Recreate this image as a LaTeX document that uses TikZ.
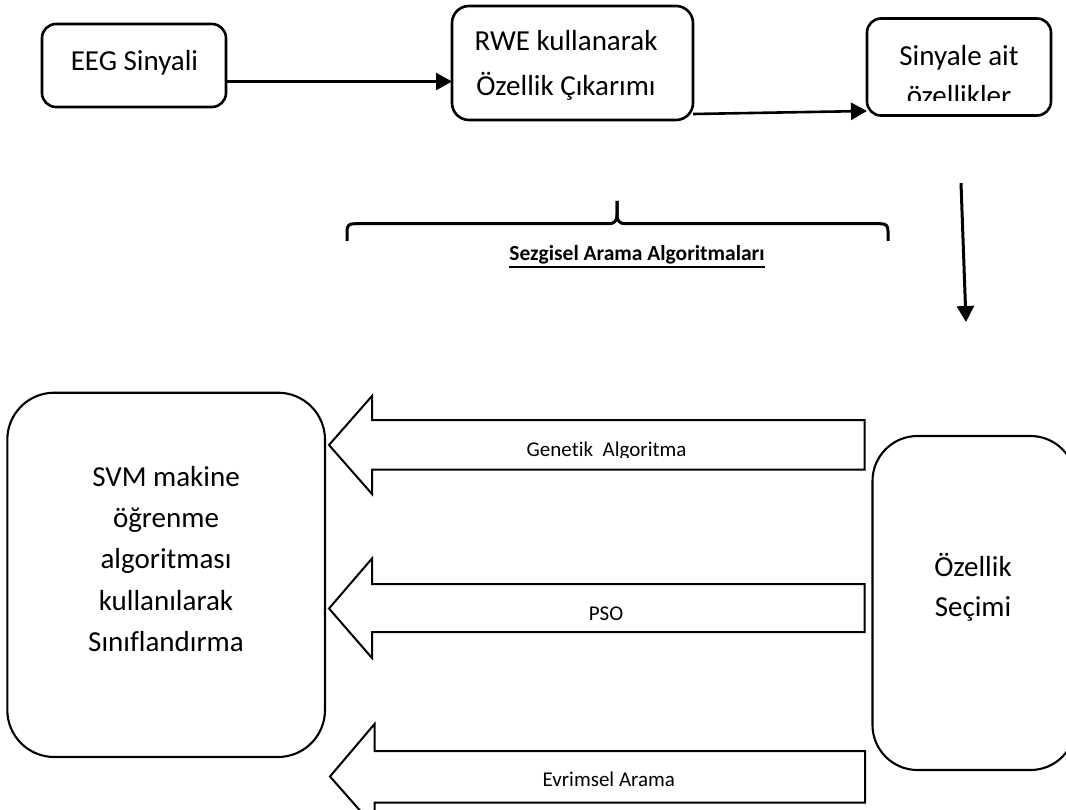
\documentclass[tikz,border=0pt]{standalone}
\usepackage{fontspec}
\setmainfont{Carlito}[Ligatures=NoCommon]
\usetikzlibrary{arrows.meta}

\begin{document}
\begin{tikzpicture}[x=1pt,y=-1pt,
  frame/.style={draw, rectangle, inner sep=0pt, outer sep=0pt, anchor=north west},
  smallbox/.style={frame, line width=2.6pt, rounded corners=14pt},
  bigbox/.style={frame, line width=2.1pt, rounded corners=47pt},
  txt/.style={inner sep=0pt, anchor=base, align=center},
  bigtxt/.style={txt, font=\fontsize{29}{42}\selectfont},
  lbltxt/.style={txt, font=\fontsize{21}{25}\selectfont},
  flow/.style={line width=2.6pt, -{Triangle[length=16pt,width=17pt]}},
  barrow/.style={draw, line width=2pt, line join=miter},
  bracepath/.style={line width=3pt, line join=round},
]
\useasboundingbox (0,0) rectangle (1066,810);

% top row: signal -> feature extraction -> features
% (multi-line texts are placed by the baseline of their last line)
\node[smallbox, minimum width=184pt, minimum height=83pt] (eeg) at (42,24) {};
\node[bigtxt] (eegt) at (134.5,70.6) {EEG Sinyali};

\node[smallbox, rounded corners=17pt, minimum width=241pt, minimum height=114pt] (rwe) at (452,6) {};
\node[bigtxt, font=\fontsize{29}{44.5}\selectfont] (rwet) at (566,95.5) {RWE kullanarak\\Özellik Çıkarımı};

\node[smallbox, minimum width=184pt, minimum height=97pt] (sin) at (867,18.5) {};
\begin{scope}
  \clip (867,18.5) rectangle (1051,100.7);
  \node[bigtxt, font=\fontsize{29}{40}\selectfont] (sint) at (959,105.4) {Sinyale ait\\özellikler};
\end{scope}

\draw[flow] ([yshift=-16pt]eeg.east) -- ([yshift=-16pt]eeg.east -| rwe.west);
\draw[flow] ([yshift=6pt]rwe.south east) -- ([yshift=4.5pt]sin.south west);

\coordinate (vtop) at (961,183);
\coordinate (vbot) at (966,322);
\draw[flow, line width=3pt] (vtop) -- (vbot);

% brace over the search algorithms
\draw[bracepath] (347,241) -- (347,231) .. controls (347,225.5) and (349,223.7) .. (355,223.7)
  -- (609,223.7) .. controls (614,223.7) and (617,221) .. (617,215) -- (617,201);
\draw[bracepath] (617,201) -- (617,215) .. controls (617,221) and (620,223.7) .. (625,223.7)
  -- (880,223.7) .. controls (886,223.7) and (888,225.5) .. (888,231) -- (888,241);
\node[txt, font=\bfseries\fontsize{21.5}{25}\selectfont] (sez) at (637,260.6) {Sezgisel Arama Algoritmaları};
\draw[line width=2pt] ([yshift=-6.5pt]sez.base west) -- ([yshift=-6.5pt]sez.base east);

% bottom row: classifier and feature selection
\node[bigbox, minimum width=317.7pt, minimum height=364.3pt] (svm) at (7.3,392.7) {};
\node[bigtxt, font=\fontsize{29}{41.4}\selectfont] (svmt) at (166,651.7) {SVM makine\\öğrenme\\algoritması\\kullanılarak\\Sınıflandırma};

\node[bigbox, rounded corners=45pt, minimum width=203pt, minimum height=334pt] (ozs) at (872.5,436) {};
\node[bigtxt, font=\fontsize{29}{40}\selectfont] (ozst) at (973,616.7) {Özellik\\Seçimi};

% block arrows
\draw[barrow] (864.5,420) -- (372,420) -- (372,396) -- (329,445) -- (372,494) -- (372,469.5) -- (864.5,469.5) -- cycle;
\draw[barrow] (864.5,584) -- (372,584) -- (372,558.5) -- (329,608.5) -- (372,658) -- (372,632) -- (864.5,632) -- cycle;
\draw[barrow] (865,751) -- (374.5,751) -- (374.5,724) -- (330,776.5) -- (374.5,827) -- (374.5,802.5) -- (865,802.5) -- cycle;

\begin{scope}
  \clip (372,420) rectangle (864,457.5);
  \node[lbltxt] (ga) at (606.6,456) {Genetik~~Algoritma};
\end{scope}
\node[lbltxt] (pso) at (606,620.4) {PSO};
\node[lbltxt] (evr) at (608.8,786.4) {Evrimsel Arama};
\end{tikzpicture}
\end{document}
